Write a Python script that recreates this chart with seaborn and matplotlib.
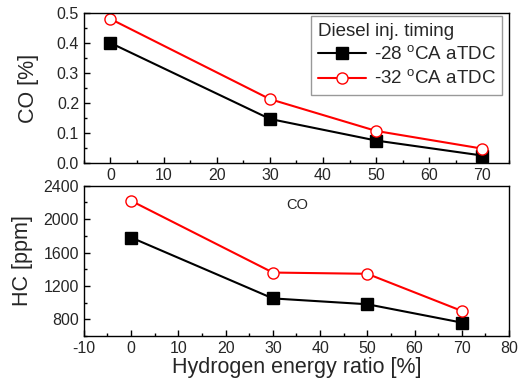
import matplotlib
matplotlib.use("Agg")
import matplotlib.pyplot as plt
from matplotlib.ticker import MultipleLocator
import seaborn as sns
import pandas as pd

# data
h2_ratio = [0, 30, 50, 70]
co_28 = [0.400, 0.147, 0.075, 0.025]
co_32 = [0.480, 0.213, 0.107, 0.048]
hc_28 = [1780, 1050, 980, 760]
hc_32 = [2220, 1360, 1345, 900]
labels = [r"-28 $^{\rm o}$CA aTDC", r"-32 $^{\rm o}$CA aTDC"]

sns.set_theme(style="ticks")
plt.rcParams["font.family"] = ["Liberation Sans", "DejaVu Sans"]
plt.rcParams["mathtext.fontset"] = "custom"
plt.rcParams["mathtext.rm"] = "Liberation Sans"
plt.rcParams["axes.unicode_minus"] = False
plt.rcParams["xtick.direction"] = "in"
plt.rcParams["ytick.direction"] = "in"

df_co = pd.DataFrame({"x": h2_ratio * 2, "y": co_28 + co_32,
                      "timing": [labels[0]] * 4 + [labels[1]] * 4})
df_hc = pd.DataFrame({"x": h2_ratio * 2, "y": hc_28 + hc_32,
                      "timing": [labels[0]] * 4 + [labels[1]] * 4})

fig = plt.figure(figsize=(5.21, 3.92), dpi=100)
ax1 = fig.add_axes([0.161, 0.584, 0.816, 0.383])
ax2 = fig.add_axes([0.161, 0.143, 0.816, 0.383])

styles = {labels[0]: dict(color="black", marker="s", markerfacecolor="black",
                          markeredgecolor="black"),
          labels[1]: dict(color="red", marker="o", markerfacecolor="white",
                          markeredgecolor="red")}

for ax, df in [(ax1, df_co), (ax2, df_hc)]:
    for lab in labels:
        sub = df[df["timing"] == lab]
        sns.lineplot(data=sub, x="x", y="y", ax=ax, label=lab, linewidth=1.5,
                     markersize=8, markeredgewidth=1.0, **styles[lab])
    for s in ax.spines.values():
        s.set_color("black")
        s.set_linewidth(1.0)
    ax.tick_params(which="major", length=4, width=1, labelsize=11.5, color="black")
    ax.tick_params(which="minor", length=2.5, width=1, color="black")
    ax.set_xlabel("")

ax1.set_xlim(-5, 75)
ax1.set_ylim(0, 0.5)
ax1.xaxis.set_major_locator(MultipleLocator(10))
ax1.xaxis.set_minor_locator(MultipleLocator(5))
ax1.yaxis.set_major_locator(MultipleLocator(0.1))
ax1.yaxis.set_minor_locator(MultipleLocator(0.05))
ax1.set_ylabel("CO [%]", fontsize=15.5)
ax1.yaxis.set_label_coords(-0.106, 0.5)
leg = ax1.legend(title="Diesel inj. timing", loc="upper right",
                 bbox_to_anchor=(0.984, 0.98), borderaxespad=0, fontsize=13.5,
                 title_fontsize=13.5, frameon=True, fancybox=False,
                 handlelength=2.6, handletextpad=0.4, alignment="left",
                 labelspacing=0.3, borderpad=0.35)
leg.get_frame().set_edgecolor("gray")
leg.get_frame().set_linewidth(1.0)

ax2.set_xlim(-10, 80)
ax2.set_ylim(600, 2400)
ax2.xaxis.set_major_locator(MultipleLocator(10))
ax2.xaxis.set_minor_locator(MultipleLocator(5))
ax2.yaxis.set_major_locator(MultipleLocator(400))
ax2.yaxis.set_minor_locator(MultipleLocator(200))
ax2.set_ylabel("HC [ppm]", fontsize=15.5)
ax2.yaxis.set_label_coords(-0.12, 0.5)
ax2.set_xlabel("Hydrogen energy ratio [%]", fontsize=15.5, labelpad=1)
ax2.legend().remove()
ax2.text(35.2, 2170, "CO", fontsize=10.5, ha="center", va="center")

fig.savefig("out.png", dpi=100)
